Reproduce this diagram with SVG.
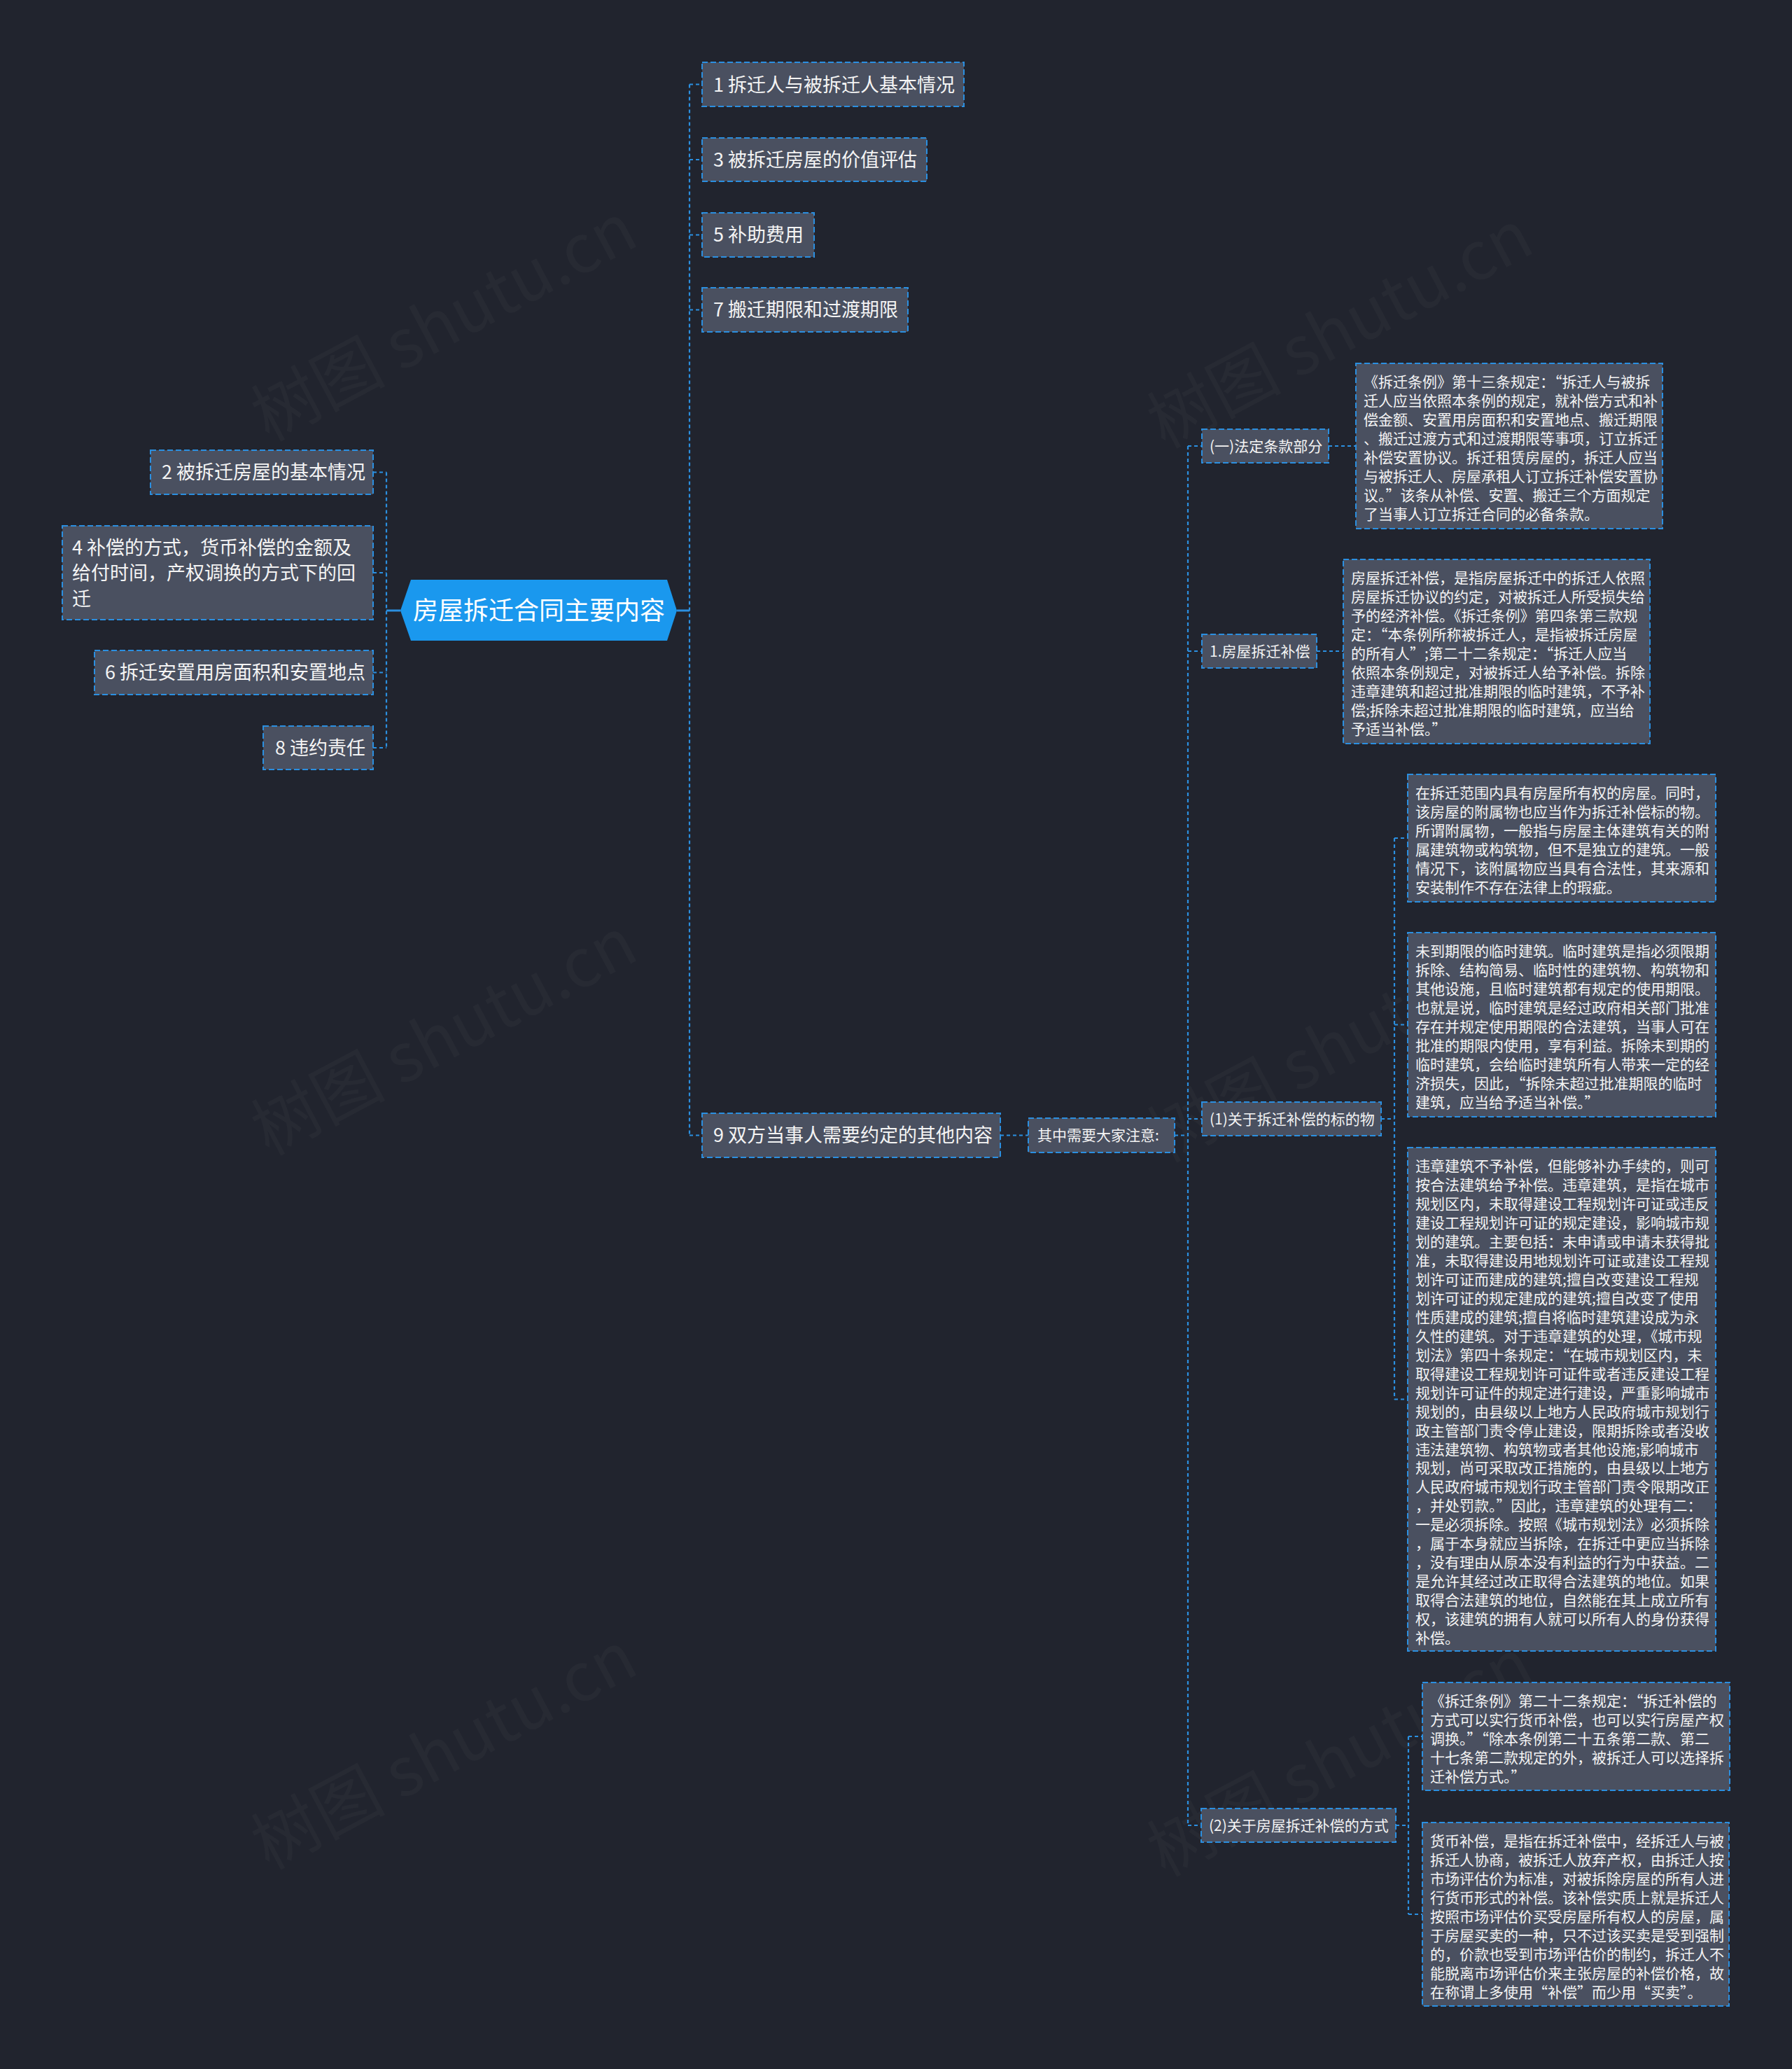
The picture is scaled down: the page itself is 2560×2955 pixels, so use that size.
<svg xmlns="http://www.w3.org/2000/svg" width="2560" height="2955" viewBox="0 0 2560 2955">
<style>
.bg{fill:#21242e}
.wm{font-family:"Noto Sans CJK SC","Noto Sans",sans-serif;font-size:96px;fill:#ffffff;fill-opacity:0.028}
.box{fill:#4a5060;stroke:#2b8fe0;stroke-width:2;stroke-dasharray:8 4}
.root{fill:#1a98ee}
.t27{font-family:"Noto Sans CJK SC","Noto Sans",sans-serif;font-size:27px;fill:#f4f4f4}
.t21{font-family:"Noto Sans CJK SC","Noto Sans",sans-serif;font-size:21px;fill:#f4f4f4}
.t36{font-family:"Noto Sans CJK SC","Noto Sans",sans-serif;font-size:36px;fill:#ffffff}
.dash{fill:none;stroke:#2b8fe0;stroke-width:2.2;stroke-dasharray:5 4}
.solid{fill:none;stroke:#2b8fe0;stroke-width:3}
</style>
<rect class="bg" x="0" y="0" width="2560" height="2955"/>
<g id="watermark">
<text class="wm" transform="translate(650,490) rotate(-28)" text-anchor="middle">树图 shutu.cn</text>
<text class="wm" transform="translate(650,1510) rotate(-28)" text-anchor="middle">树图 shutu.cn</text>
<text class="wm" transform="translate(650,2530) rotate(-28)" text-anchor="middle">树图 shutu.cn</text>
<text class="wm" transform="translate(1930,500) rotate(-28)" text-anchor="middle">树图 shutu.cn</text>
<text class="wm" transform="translate(1930,1520) rotate(-28)" text-anchor="middle">树图 shutu.cn</text>
<text class="wm" transform="translate(1930,2540) rotate(-28)" text-anchor="middle">树图 shutu.cn</text>
</g>
<g id="connectors">
<path class="solid" d="M572 872 H552"/>
<path class="solid" d="M967 872 H985"/>
<path class="dash" d="M552 674.5 V1068"/>
<path class="dash" d="M533 674.5 H552 M533 818 H552 M533 960.5 H552 M533 1068 H552"/>
<path class="dash" d="M985 120.5 V1621.5"/>
<path class="dash" d="M985 120.5 H1003 M985 228 H1003 M985 335.5 H1003 M985 442.5 H1003 M985 1621.5 H1003"/>
<path class="dash" d="M1429 1621.5 H1469"/>
<path class="dash" d="M1678 1621.5 H1697"/>
<path class="dash" d="M1697 637 V2607"/>
<path class="dash" d="M1697 637 H1717 M1697 930 H1717 M1697 1598 H1717 M1697 2607 H1716"/>
<path class="dash" d="M1898 637 H1937"/>
<path class="dash" d="M1881 930 H1919"/>
<path class="dash" d="M1973 1598 H1992"/>
<path class="dash" d="M1992 1197 V1998.5"/>
<path class="dash" d="M1992 1197 H2011 M1992 1463.5 H2011 M1992 1998.5 H2011"/>
<path class="dash" d="M1994 2607 H2012"/>
<path class="dash" d="M2012 2480 V2734"/>
<path class="dash" d="M2012 2480 H2032 M2012 2734 H2032"/>
</g>
<g id="root">
<polygon class="root" points="572,872 587,828 953,828 967,872 953,915 587,915"/>
<text class="t36" x="770" y="885" text-anchor="middle">房屋拆迁合同主要内容</text>
</g>
<g id="n1">
<rect class="box" x="1003" y="89" width="374" height="63"/>
<text class="t27" x="1019" y="131">1 拆迁人与被拆迁人基本情况</text>
</g>
<g id="n3">
<rect class="box" x="1003" y="197" width="321" height="62"/>
<text class="t27" x="1019" y="238">3 被拆迁房屋的价值评估</text>
</g>
<g id="n5">
<rect class="box" x="1003" y="304" width="160" height="63"/>
<text class="t27" x="1019" y="345">5 补助费用</text>
</g>
<g id="n7">
<rect class="box" x="1003" y="411" width="294" height="63"/>
<text class="t27" x="1019" y="452">7 搬迁期限和过渡期限</text>
</g>
<g id="n9">
<rect class="box" x="1003" y="1590" width="426" height="63"/>
<text class="t27" x="1019" y="1631">9 双方当事人需要约定的其他内容</text>
</g>
<g id="n2">
<rect class="box" x="215" y="643" width="318" height="63"/>
<text class="t27" x="522" y="684" text-anchor="end">2 被拆迁房屋的基本情况</text>
</g>
<g id="n4">
<rect class="box" x="89" y="751" width="444" height="134"/>
<text class="t27" x="103" y="792">4 补偿的方式，货币补偿的金额及</text>
<text class="t27" x="103" y="828">给付时间，产权调换的方式下的回</text>
<text class="t27" x="103" y="865">迁</text>
</g>
<g id="n6">
<rect class="box" x="135" y="929" width="398" height="63"/>
<text class="t27" x="522" y="970" text-anchor="end">6 拆迁安置用房面积和安置地点</text>
</g>
<g id="n8">
<rect class="box" x="376" y="1037" width="157" height="62"/>
<text class="t27" x="522" y="1078" text-anchor="end">8 违约责任</text>
</g>
<g id="note">
<rect class="box" x="1469" y="1597" width="209" height="49"/>
<text class="t21" x="1482" y="1629">其中需要大家注意:</text>
</g>
<g id="s1">
<rect class="box" x="1717" y="613" width="181" height="48"/>
<text class="t21" x="1728" y="645">(一)法定条款部分</text>
</g>
<g id="s2">
<rect class="box" x="1717" y="906" width="164" height="48"/>
<text class="t21" x="1728" y="938">1.房屋拆迁补偿</text>
</g>
<g id="s3">
<rect class="box" x="1717" y="1574" width="256" height="48"/>
<text class="t21" x="1728" y="1606">(1)关于拆迁补偿的标的物</text>
</g>
<g id="s4">
<rect class="box" x="1716" y="2583" width="278" height="48"/>
<text class="t21" x="1727" y="2615">(2)关于房屋拆迁补偿的方式</text>
</g>
<g id="tb1">
<rect class="box" x="1937" y="519" width="438" height="236"/>
<text class="t21">
<tspan x="1948" y="553">《拆迁条例》第十三条规定：“拆迁人与被拆</tspan>
<tspan x="1948" y="580">迁人应当依照本条例的规定，就补偿方式和补</tspan>
<tspan x="1948" y="607">偿金额、安置用房面积和安置地点、搬迁期限</tspan>
<tspan x="1948" y="634">、搬迁过渡方式和过渡期限等事项，订立拆迁</tspan>
<tspan x="1948" y="661">补偿安置协议。拆迁租赁房屋的，拆迁人应当</tspan>
<tspan x="1948" y="688">与被拆迁人、房屋承租人订立拆迁补偿安置协</tspan>
<tspan x="1948" y="715">议。”该条从补偿、安置、搬迁三个方面规定</tspan>
<tspan x="1948" y="742">了当事人订立拆迁合同的必备条款。</tspan>
</text>
</g>
<g id="tb2">
<rect class="box" x="1919" y="799" width="438" height="263"/>
<text class="t21">
<tspan x="1930" y="833">房屋拆迁补偿，是指房屋拆迁中的拆迁人依照</tspan>
<tspan x="1930" y="860">房屋拆迁协议的约定，对被拆迁人所受损失给</tspan>
<tspan x="1930" y="887">予的经济补偿。《拆迁条例》第四条第三款规</tspan>
<tspan x="1930" y="914">定：“本条例所称被拆迁人，是指被拆迁房屋</tspan>
<tspan x="1930" y="941">的所有人”;第二十二条规定：“拆迁人应当</tspan>
<tspan x="1930" y="968">依照本条例规定，对被拆迁人给予补偿。拆除</tspan>
<tspan x="1930" y="995">违章建筑和超过批准期限的临时建筑，不予补</tspan>
<tspan x="1930" y="1022">偿;拆除未超过批准期限的临时建筑，应当给</tspan>
<tspan x="1930" y="1049">予适当补偿。”</tspan>
</text>
</g>
<g id="tb3">
<rect class="box" x="2011" y="1106" width="440" height="182"/>
<text class="t21">
<tspan x="2022" y="1140">在拆迁范围内具有房屋所有权的房屋。同时，</tspan>
<tspan x="2022" y="1167">该房屋的附属物也应当作为拆迁补偿标的物。</tspan>
<tspan x="2022" y="1194">所谓附属物，一般指与房屋主体建筑有关的附</tspan>
<tspan x="2022" y="1221">属建筑物或构筑物，但不是独立的建筑。一般</tspan>
<tspan x="2022" y="1248">情况下，该附属物应当具有合法性，其来源和</tspan>
<tspan x="2022" y="1275">安装制作不存在法律上的瑕疵。</tspan>
</text>
</g>
<g id="tb4">
<rect class="box" x="2011" y="1332" width="440" height="263"/>
<text class="t21">
<tspan x="2022" y="1366">未到期限的临时建筑。临时建筑是指必须限期</tspan>
<tspan x="2022" y="1393">拆除、结构简易、临时性的建筑物、构筑物和</tspan>
<tspan x="2022" y="1420">其他设施，且临时建筑都有规定的使用期限。</tspan>
<tspan x="2022" y="1447">也就是说，临时建筑是经过政府相关部门批准</tspan>
<tspan x="2022" y="1474">存在并规定使用期限的合法建筑，当事人可在</tspan>
<tspan x="2022" y="1501">批准的期限内使用，享有利益。拆除未到期的</tspan>
<tspan x="2022" y="1528">临时建筑，会给临时建筑所有人带来一定的经</tspan>
<tspan x="2022" y="1555">济损失，因此，“拆除未超过批准期限的临时</tspan>
<tspan x="2022" y="1582">建筑，应当给予适当补偿。”</tspan>
</text>
</g>
<g id="tb5">
<rect class="box" x="2011" y="1639" width="440" height="719"/>
<text class="t21">
<tspan x="2022" y="1673">违章建筑不予补偿，但能够补办手续的，则可</tspan>
<tspan x="2022" y="1700">按合法建筑给予补偿。违章建筑，是指在城市</tspan>
<tspan x="2022" y="1727">规划区内，未取得建设工程规划许可证或违反</tspan>
<tspan x="2022" y="1754">建设工程规划许可证的规定建设，影响城市规</tspan>
<tspan x="2022" y="1781">划的建筑。主要包括：未申请或申请未获得批</tspan>
<tspan x="2022" y="1808">准，未取得建设用地规划许可证或建设工程规</tspan>
<tspan x="2022" y="1835">划许可证而建成的建筑;擅自改变建设工程规</tspan>
<tspan x="2022" y="1862">划许可证的规定建成的建筑;擅自改变了使用</tspan>
<tspan x="2022" y="1889">性质建成的建筑;擅自将临时建筑建设成为永</tspan>
<tspan x="2022" y="1916">久性的建筑。对于违章建筑的处理，《城市规</tspan>
<tspan x="2022" y="1943">划法》第四十条规定：“在城市规划区内，未</tspan>
<tspan x="2022" y="1970">取得建设工程规划许可证件或者违反建设工程</tspan>
<tspan x="2022" y="1997">规划许可证件的规定进行建设，严重影响城市</tspan>
<tspan x="2022" y="2024">规划的，由县级以上地方人民政府城市规划行</tspan>
<tspan x="2022" y="2051">政主管部门责令停止建设，限期拆除或者没收</tspan>
<tspan x="2022" y="2078">违法建筑物、构筑物或者其他设施;影响城市</tspan>
<tspan x="2022" y="2104">规划，尚可采取改正措施的，由县级以上地方</tspan>
<tspan x="2022" y="2131">人民政府城市规划行政主管部门责令限期改正</tspan>
<tspan x="2022" y="2158">，并处罚款。”因此，违章建筑的处理有二：</tspan>
<tspan x="2022" y="2185">一是必须拆除。按照《城市规划法》必须拆除</tspan>
<tspan x="2022" y="2212">，属于本身就应当拆除，在拆迁中更应当拆除</tspan>
<tspan x="2022" y="2239">，没有理由从原本没有利益的行为中获益。二</tspan>
<tspan x="2022" y="2266">是允许其经过改正取得合法建筑的地位。如果</tspan>
<tspan x="2022" y="2293">取得合法建筑的地位，自然能在其上成立所有</tspan>
<tspan x="2022" y="2320">权，该建筑的拥有人就可以所有人的身份获得</tspan>
<tspan x="2022" y="2347">补偿。</tspan>
</text>
</g>
<g id="tb6">
<rect class="box" x="2032" y="2403" width="439" height="154"/>
<text class="t21">
<tspan x="2043" y="2437">《拆迁条例》第二十二条规定：“拆迁补偿的</tspan>
<tspan x="2043" y="2464">方式可以实行货币补偿，也可以实行房屋产权</tspan>
<tspan x="2043" y="2491">调换。”“除本条例第二十五条第二款、第二</tspan>
<tspan x="2043" y="2518">十七条第二款规定的外，被拆迁人可以选择拆</tspan>
<tspan x="2043" y="2545">迁补偿方式。”</tspan>
</text>
</g>
<g id="tb7">
<rect class="box" x="2032" y="2603" width="438" height="262"/>
<text class="t21">
<tspan x="2043" y="2637">货币补偿，是指在拆迁补偿中，经拆迁人与被</tspan>
<tspan x="2043" y="2664">拆迁人协商，被拆迁人放弃产权，由拆迁人按</tspan>
<tspan x="2043" y="2691">市场评估价为标准，对被拆除房屋的所有人进</tspan>
<tspan x="2043" y="2718">行货币形式的补偿。该补偿实质上就是拆迁人</tspan>
<tspan x="2043" y="2745">按照市场评估价买受房屋所有权人的房屋，属</tspan>
<tspan x="2043" y="2772">于房屋买卖的一种，只不过该买卖是受到强制</tspan>
<tspan x="2043" y="2799">的，价款也受到市场评估价的制约，拆迁人不</tspan>
<tspan x="2043" y="2826">能脱离市场评估价来主张房屋的补偿价格，故</tspan>
<tspan x="2043" y="2853">在称谓上多使用“补偿”而少用“买卖”。</tspan>
</text>
</g>
</svg>
